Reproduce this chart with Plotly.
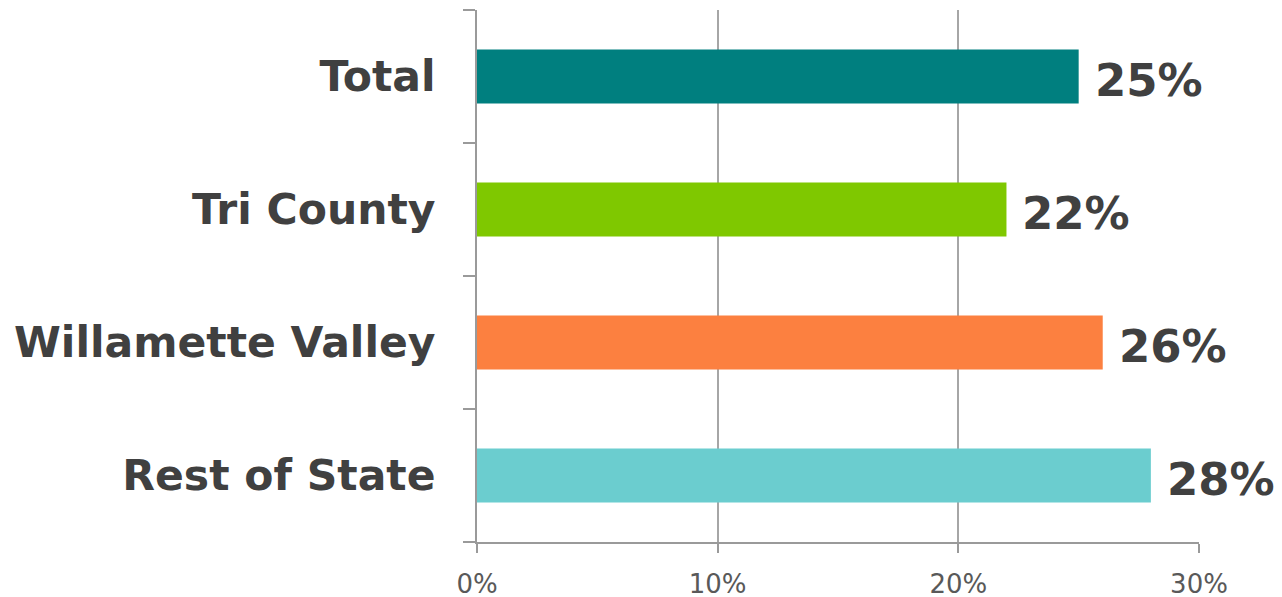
import plotly.graph_objects as go

categories = ["Total", "Tri County", "Willamette Valley", "Rest of State"]
values = [0.25, 0.22, 0.26, 0.28]
labels = ["25%", "22%", "26%", "28%"]
colors = ["#007F7F", "#7FC800", "#FC8040", "#6BCDCF"]
tick_vals = [0, 0.1, 0.2, 0.3]
tick_text = ["0%", "10%", "20%", "30%"]

fig = go.Figure()
fig.add_trace(go.Bar(
    x=values, y=categories, orientation="h",
    marker=dict(color=colors, line=dict(width=0)),
    hoverinfo="skip",
))

for c, v, t in zip(categories, values, labels):
    fig.add_annotation(
        x=v, y=c, xref="x", yref="y", text=t, showarrow=False,
        xanchor="left", yanchor="middle", xshift=9, yshift=-4,
        font=dict(family="DejaVu Sans", size=45, color="#404040", weight="bold"),
        bgcolor="white", borderpad=6,
    )

fig.update_layout(
    width=1282, height=597,
    margin=dict(l=469, r=91, t=2, b=63, autoexpand=False),
    paper_bgcolor="white", plot_bgcolor="white",
    showlegend=False,
    bargap=0.594,
)
fig.update_xaxes(
    range=[0, 0.30], automargin=False,
    tickvals=tick_vals, ticktext=tick_text,
    showgrid=True, gridcolor="#A6A6A6", gridwidth=1.5,
    showline=True, linecolor="#9A9A9A", linewidth=2,
    ticks="outside", ticklen=9, tickwidth=2, tickcolor="#9A9A9A",
    ticklabelstandoff=9,
    tickfont=dict(family="DejaVu Sans", size=26, color="#595959"),
    zeroline=False,
)
fig.update_yaxes(
    categoryorder="array", categoryarray=categories[::-1], automargin=False,
    showline=True, linecolor="#9A9A9A", linewidth=2,
    ticks="outside", ticklen=12, tickwidth=2, tickcolor="#9A9A9A",
    tickson="boundaries",
    ticklabelstandoff=31,
    tickfont=dict(family="DejaVu Sans", size=42.5, color="#404040", weight="bold"),
    showgrid=False,
)

fig.write_html("out.html")
